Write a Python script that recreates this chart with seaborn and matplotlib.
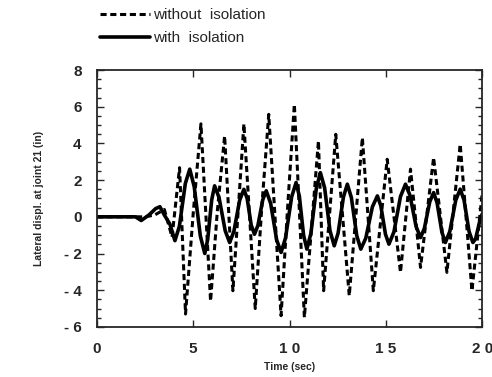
import pandas as pd
import matplotlib
matplotlib.use('Agg')
import matplotlib.pyplot as plt
import seaborn as sns
from matplotlib.ticker import MultipleLocator

# du lieu doc tu hinh (dinh / day cua tung duong)
t_without = [0, 2.5, 3.0, 3.5, 3.9, 4.29, 4.6, 5.0, 5.4, 5.9, 6.25, 6.63, 7.06, 7.35, 7.63,
             8.22, 8.55, 8.92, 9.56, 9.9, 10.25, 10.77, 11.5, 11.77, 12.4, 13.1, 13.78,
             14.35, 15.07, 15.76, 16.28, 16.8, 17.48, 18.17, 18.86, 19.47, 20.0]
v_without = [0, 0.0, 0.1, 0.4, -1.1, 2.68, -5.3, 0.2, 5.07, -4.6, 0.3, 4.41, -4.03, 0.6, 5.07,
             -5.0, 0.4, 5.59, -5.39, 0.5, 6.14, -5.48, 4.14, -4.03, 4.5, -4.3, 4.32,
             -4.03, 3.14, -3.03, 2.6, -2.76, 3.23, -3.03, 3.96, -4.03, 1.25]

t_with = [0, 2.0, 2.3, 2.7, 3.05, 3.27, 3.5, 3.79, 4.05, 4.28, 4.59, 4.82,
          5.05, 5.37, 5.6, 5.75, 5.96, 6.11, 6.34, 6.66, 6.89, 7.11, 7.41, 7.63,
          7.8, 8.01, 8.18, 8.36, 8.61, 8.79, 9.02, 9.33, 9.56, 9.79, 10.11, 10.34,
          10.51, 10.73, 10.9, 11.11, 11.39, 11.6, 11.82, 12.1, 12.32, 12.52, 12.8, 13.0,
          13.21, 13.49, 13.7, 13.96, 14.3, 14.56, 14.74, 14.98, 15.16, 15.42, 15.76, 16.02,
          16.25, 16.57, 16.8, 17.0, 17.28, 17.48, 17.66, 17.91, 18.09, 18.32, 18.63, 18.86,
          19.06, 19.32, 19.52, 19.66, 19.86, 20.0]
v_with = [0, 0.0, -0.2, 0.1, 0.45, 0.55, 0.1, -0.4, -1.3, -0.52, 1.82, 2.6,
          1.65, -1.05, -2.0, -1.24, 0.93, 1.69, 1.05, -0.76, -1.4, -0.8, 0.9, 1.5,
          1.0, -0.45, -0.95, -0.46, 0.93, 1.42, 0.73, -1.25, -1.94, -1.16, 1.09, 1.87,
          1.12, -1.01, -1.76, -0.9, 1.55, 2.41, 1.59, -0.76, -1.58, -0.89, 1.09, 1.78,
          1.05, -1.03, -1.76, -1.16, 0.54, 1.14, 0.6, -0.95, -1.49, -0.82, 1.11, 1.78,
          1.18, -0.53, -1.13, -0.63, 0.82, 1.32, 0.76, -0.84, -1.4, -0.8, 0.91, 1.51,
          0.91, -0.8, -1.4, -1.2, -0.3, 0.15]

y_ticks = [8, 6, 4, 2, 0, -2, -4, -6]
y_labels = ['8', '6', '4', '2', '0', '- 2', '- 4', '- 6']
x_ticks = [0, 5, 10, 15, 20]
x_labels = ['0', '5', '1 0', '1 5', '2 0']

df1 = pd.DataFrame({'t': t_without, 'v': v_without})
df2 = pd.DataFrame({'t': t_with, 'v': v_with})

sns.set_style('ticks')
plt.rcParams['font.family'] = ['Liberation Sans', 'DejaVu Sans']

fig = plt.figure(figsize=(4.92, 3.77), dpi=100)
ax = fig.add_axes([0.197, 0.133, 0.783, 0.681])

sns.lineplot(data=df1, x='t', y='v', ax=ax, color='black', lw=2.2,
             linestyle=(0, (2.0, 1.2)), label='without  isolation')
sns.lineplot(data=df2, x='t', y='v', ax=ax, color='black', lw=2.6,
             label='with  isolation')

ax.set_xlim(0, 20)
ax.set_ylim(-6, 8)
ax.set_xticks(x_ticks)
ax.set_xticklabels(x_labels, fontsize=11, fontweight='bold')
ax.set_yticks(y_ticks)
ax.set_yticklabels(y_labels, fontsize=11, fontweight='bold')
ax.yaxis.set_minor_locator(MultipleLocator(0.5))
ax.tick_params(which='both', direction='in', top=True, right=True, pad=11)
ax.tick_params(which='major', length=5, width=1)
ax.tick_params(which='minor', length=3, width=1)
for s in ax.spines.values():
    s.set_linewidth(1.3)

ax.set_xlabel('Time (sec)', fontsize=7.5, fontweight='bold', labelpad=4)
ax.set_ylabel('Lateral displ. at joint 21 (in)', fontsize=7.5, fontweight='bold', labelpad=14)

ax.get_legend().remove()
h, l = ax.get_legend_handles_labels()
fig.legend(h, l, loc='upper left', bbox_to_anchor=(0.175, 1.015), frameon=False,
           fontsize=11, handlelength=3.3, handletextpad=0.2, labelspacing=0.6)

fig.savefig('out.png', dpi=100)
